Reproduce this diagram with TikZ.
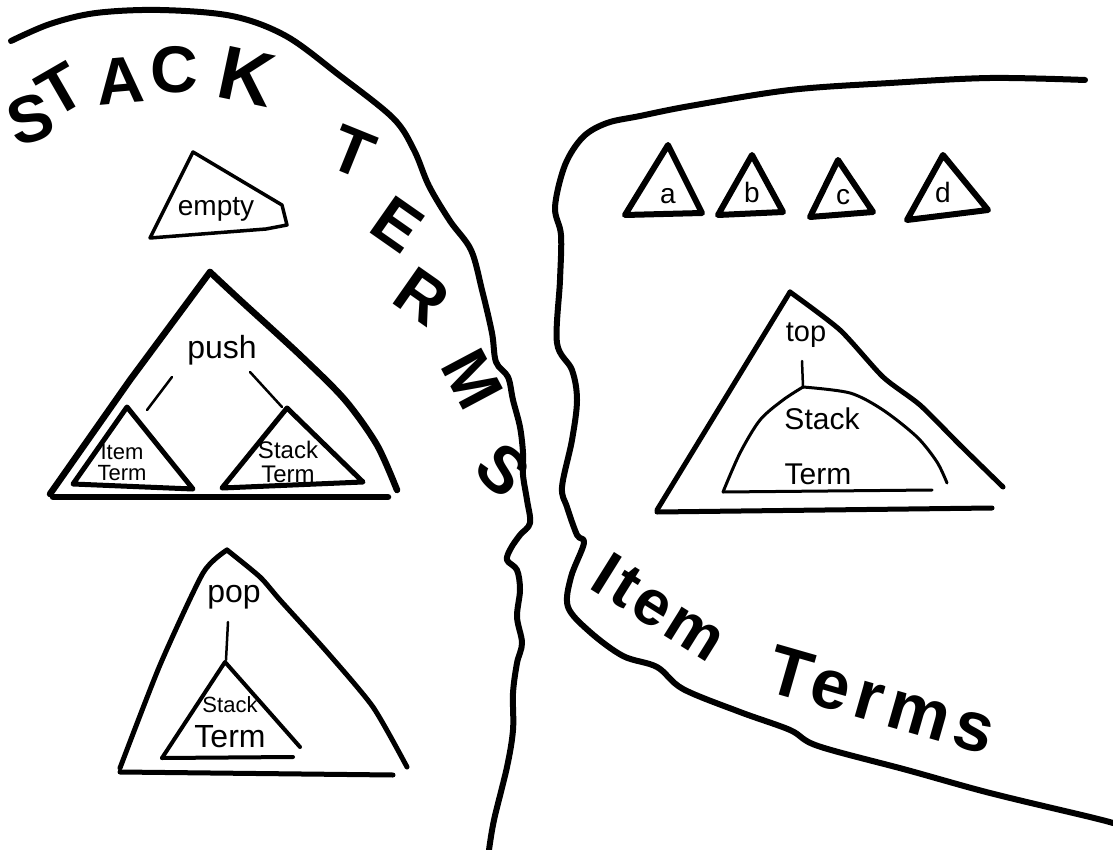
\documentclass[tikz,border=0pt]{standalone}
\usepackage{fontspec}
\setmainfont{Liberation Sans}
\begin{document}
\begin{tikzpicture}[x=1pt,y=-1pt,
  bound/.style={line width=6pt,line cap=round,line join=round},
  tri/.style={line width=5pt,line cap=round,line join=round},
  thintri/.style={line width=3.5pt,line cap=round,line join=round},
  link/.style={line width=2.5pt,line cap=round},
  big/.style={font=\fontsize{66}{66}\selectfont\bfseries,inner sep=0pt,text height=0.72em,text depth=0pt},
  lab/.style={inner sep=0pt}]
\useasboundingbox[fill=white] (0,0) rectangle (1113,850);

% ---- region boundaries ----
\draw[bound] plot[smooth,tension=0.55] coordinates {(11,41) (50,24) (96,13) (160,10) (232,16) (286,36) (339,75) (393,118) (414,150) (429,186) (450,221) (471,250) (482,290) (492,333) (496,362) (508,377) (513,400) (520,427) (523,453) (523,475) (527,500) (530,523) (520,535) (511,548) (507,560) (517,570) (520,590) (517,617) (522,643) (517,663) (513,693) (513,730) (507,767) (494,820) (489,850)};
\draw[bound] plot[smooth,tension=0.55] coordinates {(1085,80) (990,78) (890,83) (790,90) (690,106) (640,116) (607,123) (583,137) (565,165) (555,207) (561,235) (560,280) (557,343) (572,370) (577,400) (572,440) (562,487) (567,507) (577,535) (584,543) (571,577) (568,607) (590,632) (623,656) (657,667) (683,689) (740,712) (790,730) (818,746) (907,770) (990,793) (1090,817) (1113,823)};

% ---- STACK TERMS ----
\node[big,rotate=18] (s1) at (36,137) {S};
\node[big,rotate=30] (s2) at (70,106) {T};
\node[big,rotate=5]  (s3) at (122,100) {A};
\node[big,rotate=0]  (s4) at (174,89) {C};
\node[big,rotate=-12,font=\fontsize{76}{76}\selectfont\bfseries] (s5) at (242,99) {K};
\node[big,rotate=-22] (t1) at (346,170) {T};
\node[big,rotate=-35] (t2) at (387,240) {E};
\node[big,rotate=-35] (t3) at (411,312) {R};
\node[big,rotate=-62] (t4) at (456,388) {M};
\node[big,rotate=-45] (t5) at (490,484) {S};

% ---- Item Terms ----
\node[lab,rotate=-32,font=\fontsize{64}{64}\selectfont\bfseries\addfontfeature{LetterSpace=6}] (item) at (660,607) {Item};
\node[lab,rotate=-16,font=\fontsize{70}{70}\selectfont\bfseries\addfontfeature{LetterSpace=10}] (terms) at (882,700) {Terms};

% ---- empty ----
\draw[thintri] (193,152) -- (282,205) -- (287,225) -- (266,229) -- (150,238) -- cycle;
\node[lab,font=\fontsize{28}{28}\selectfont] (empty) at (216,209) {empty};

% ---- push ----
\draw[tri,line width=6.5pt] (50,494) -- (130,380) -- (210,272);
\draw[tri,line width=6.5pt] plot[smooth,tension=0.5] coordinates {(210,272) (240,300) (300,355) (345,400) (377,445) (397,490)};
\draw[tri,line width=6.5pt] (53,497) -- (388,497);
\node[lab,font=\fontsize{32}{32}\selectfont] (push) at (222,350) {push};
\draw[tri] (73,484) -- (127,407) -- (193,489) -- cycle;
\node[lab,align=center,font=\fontsize{22}{21}\selectfont] (itemt) at (122,463) {Item\\Term};
\draw[tri] (222,488) -- (287,408) -- (363,482) -- cycle;
\node[lab,align=center,font=\fontsize{24}{24}\selectfont] (stackt1) at (288,462) {Stack\\Term};
\coordinate (pl1) at (172,377); \coordinate (pl2) at (147,410);
\coordinate (pr1) at (250,372); \coordinate (pr2) at (282,407);
\draw[link] (pl1) -- (pl2);
\draw[link] (pr1) -- (pr2);

% ---- pop ----
\draw[tri] plot[smooth,tension=0.4] coordinates {(120,768) (160,665) (203,573) (227,550)};
\draw[tri] plot[smooth,tension=0.4] coordinates {(227,550) (260,577) (280,600) (327,652) (373,707) (407,767)};
\draw[tri] (120,772) -- (393,775);
\node[lab,font=\fontsize{32}{32}\selectfont] (pop) at (234,597) {pop};
\draw[tri,line width=4pt] (162,758) -- (225,662) -- (300,747);
\draw[tri,line width=4pt] (162,758) -- (293,757);
\node[lab,font=\fontsize{22}{22}\selectfont] (stackp) at (230,705) {Stack};
\node[lab,font=\fontsize{32}{32}\selectfont] (termp) at (230,737) {Term};
\coordinate (pp1) at (228,622); \coordinate (pp2) at (226,660);
\draw[link] (pp1) -- (pp2);

% ---- a b c d ----
\draw[tri,line width=6pt] (625,215) -- (668,145) -- (702,213) -- cycle;
\node[lab,font=\fontsize{28}{28}\selectfont] (la) at (668,196) {a};
\draw[tri,line width=6pt] (718,215) -- (752,155) -- (783,212) -- cycle;
\node[lab,font=\fontsize{28}{28}\selectfont] (lb) at (752,192) {b};
\draw[tri,line width=6pt] (810,217) -- (838,160) -- (873,212) -- cycle;
\node[lab,font=\fontsize{28}{28}\selectfont] (lc) at (843,197) {c};
\draw[tri,line width=6pt] (907,220) -- (943,155) -- (988,210) -- cycle;
\node[lab,font=\fontsize{28}{28}\selectfont] (ld) at (943,192) {d};

% ---- top ----
\draw[tri] (657,510) -- (790,292);
\draw[tri] plot[smooth,tension=0.4] coordinates {(790,292) (840,330) (883,377) (920,405) (960,445) (1003,487)};
\draw[tri] (657,512) -- (992,508);
\node[lab,font=\fontsize{29}{29}\selectfont] (top) at (806,335) {top};
\draw[thintri,line width=3pt] plot[smooth,tension=0.5] coordinates {(723,492) (740,453) (760,420) (783,400) (803,387)};
\draw[thintri,line width=3pt] plot[smooth,tension=0.5] coordinates {(803,387) (850,393) (883,410) (917,437) (937,462) (947,483)};
\draw[thintri,line width=3pt] (723,492) -- (932,490);
\node[lab,font=\fontsize{30}{30}\selectfont] (stackq) at (822,419) {Stack};
\node[lab,font=\fontsize{30}{30}\selectfont] (termq) at (818,474) {Term};
\coordinate (tq1) at (802,361); \coordinate (tq2) at (803,387);
\draw[link] (tq1) -- (tq2);
\end{tikzpicture}
\end{document}
